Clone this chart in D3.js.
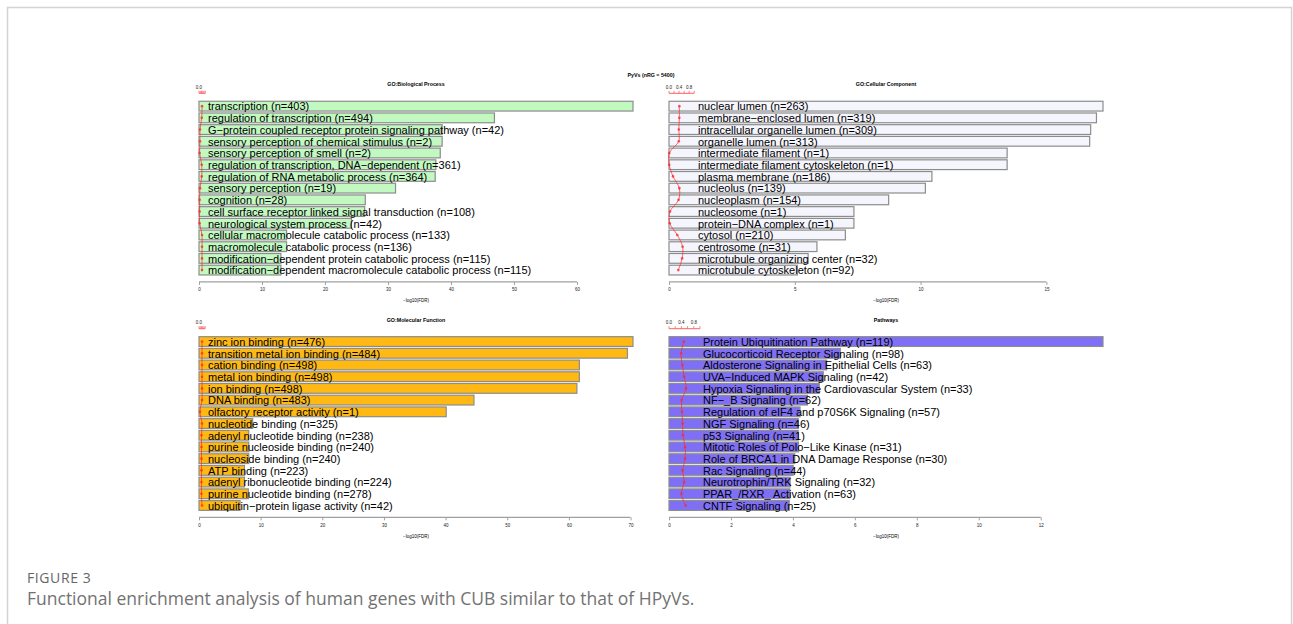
<!DOCTYPE html>
<html>
<head>
<meta charset="utf-8">
<script src="https://cdn.jsdelivr.net/npm/d3@7"></script>
<style>
  body { margin: 0; background: #fff; }
  svg { display: block; }
  .lbl { font-family: "Liberation Sans", Arial, sans-serif; }
  .cap { font-family: "Open Sans", sans-serif; }
</style>
</head>
<body>
<svg id="fig" width="1293" height="624"></svg>
<script>
// GO: Biological Process
const bpTerms = ["transcription (n=403)", "regulation of transcription (n=494)",
  "G\u2212protein coupled receptor protein signaling pathway (n=42)",
  "sensory perception of chemical stimulus (n=2)", "sensory perception of smell (n=2)",
  "regulation of transcription, DNA\u2212dependent (n=361)", "regulation of RNA metabolic process (n=364)",
  "sensory perception (n=19)", "cognition (n=28)", "cell surface receptor linked signal transduction (n=108)",
  "neurological system process (n=42)", "cellular macromolecule catabolic process (n=133)",
  "macromolecule catabolic process (n=136)", "modification\u2212dependent protein catabolic process (n=115)",
  "modification\u2212dependent macromolecule catabolic process (n=115)"];
const bpFdr = [68.9, 46.9, 38.6, 38.6, 38.3, 37.6, 37.5, 31.2, 26.4, 26.3, 24.2, 13.9, 13.9, 13.0, 13.0];
const bpRatio = [0.48, 0.43, 0.16, 0.16, 0.1, 0.43, 0.43, 0.16, 0.1, 0.1, 0.1, 0.48, 0.48, 0.48, 0.48];
const bpTicks = [0, 10, 20, 30, 40, 50, 60];

// GO: Cellular Component
const ccTerms = ["nuclear lumen (n=263)", "membrane\u2212enclosed lumen (n=319)", "intracellular organelle lumen (n=309)",
  "organelle lumen (n=313)", "intermediate filament (n=1)", "intermediate filament cytoskeleton (n=1)",
  "plasma membrane (n=186)", "nucleolus (n=139)", "nucleoplasm (n=154)", "nucleosome (n=1)",
  "protein\u2212DNA complex (n=1)", "cytosol (n=210)", "centrosome (n=31)",
  "microtubule organizing center (n=32)", "microtubule cytoskeleton (n=92)"];
const ccFdr = [17.25, 16.99, 16.76, 16.72, 13.44, 13.44, 10.45, 10.19, 8.73, 7.35, 7.35, 7.01, 5.88, 5.53, 5.10];
const ccRatio = [0.41, 0.41, 0.39, 0.39, 0.01, 0.01, 0.16, 0.41, 0.38, 0.04, 0.03, 0.33, 0.54, 0.52, 0.37];
const ccTicks = [0, 5, 10, 15];

// GO: Molecular Function
const mfTerms = ["zinc ion binding (n=476)", "transition metal ion binding (n=484)", "cation binding (n=498)",
  "metal ion binding (n=498)", "ion binding (n=498)", "DNA binding (n=483)", "olfactory receptor activity (n=1)",
  "nucleotide binding (n=325)", "adenyl nucleotide binding (n=238)", "purine nucleoside binding (n=240)",
  "nucleoside binding (n=240)", "ATP binding (n=223)", "adenyl ribonucleotide binding (n=224)",
  "purine nucleotide binding (n=278)", "ubiquitin\u2212protein ligase activity (n=42)"];
const mfFdr = [70.4, 69.5, 61.7, 61.7, 61.3, 44.6, 40.1, 8.7, 8.07, 8.07, 8.07, 7.37, 7.37, 8.0, 6.66];
const mfRatio = [0.49, 0.49, 0.49, 0.49, 0.49, 0.49, 0.16, 0.49, 0.4, 0.4, 0.4, 0.4, 0.4, 0.4, 0.49];
const mfTicks = [0, 10, 20, 30, 40, 50, 60, 70];

// Pathways
const pwTerms = ["Protein Ubiquitination Pathway (n=119)", "Glucocorticoid Receptor Signaling (n=98)",
  "Aldosterone Signaling in Epithelial Cells (n=63)", "UVA\u2212Induced MAPK Signaling (n=42)",
  "Hypoxia Signaling in the Cardiovascular System (n=33)", "NF\u2212_B Signaling (n=62)",
  "Regulation of eIF4 and p70S6K Signaling (n=57)", "NGF Signaling (n=46)", "p53 Signaling (n=41)",
  "Mitotic Roles of Polo\u2212Like Kinase (n=31)", "Role of BRCA1 in DNA Damage Response (n=30)",
  "Rac Signaling (n=44)", "Neurotrophin/TRK Signaling (n=32)", "PPAR_/RXR_ Activation (n=63)",
  "CNTF Signaling (n=25)"];
const pwFdr = [14.01, 5.53, 5.09, 4.98, 4.85, 4.47, 4.23, 4.17, 4.17, 4.18, 4.06, 4.01, 3.91, 3.90, 3.88];
const pwRatio = [0.48, 0.39, 0.43, 0.49, 0.55, 0.41, 0.42, 0.44, 0.45, 0.52, 0.52, 0.44, 0.49, 0.40, 0.54];
const pwTicks = [0, 2, 4, 6, 8, 10, 12];

const ratioTicks = [0, 0.2, 0.4, 0.6, 0.8, 1.0];

const svg = d3.select("#fig");
svg.append("rect").attr("width", 1293).attr("height", 624).attr("fill", "#fff");

// page frame
svg.append("rect")
  .attr("x", 7.5).attr("y", 7.5).attr("width", 1284).attr("height", 660)
  .attr("fill", "none").attr("stroke", "#d4d4d4").attr("stroke-width", 1.5);

const PLOT_W = 434;

function drawPanel(opt) {
  const g = svg.append("g").attr("class", "lbl");
  const x = d3.scaleLinear().domain([0, d3.max(opt.fdr)]).range([opt.x0, opt.x0 + PLOT_W]);
  const y = d3.scaleBand().domain(d3.range(opt.terms.length))
    .range([opt.y0, opt.y0 + opt.terms.length * 11.71])
    .paddingInner(0.1667).paddingOuter(0.0833);
  const yEnd = opt.y0 + opt.terms.length * 11.71;

  g.append("text")
    .attr("x", opt.x0 + PLOT_W / 2).attr("y", opt.y0 - 16)
    .attr("text-anchor", "middle").attr("dominant-baseline", "central")
    .attr("font-size", 5.3).attr("font-weight", "bold")
    .text(opt.title);

  g.selectAll("rect.bar").data(opt.fdr).join("rect")
    .attr("class", "bar")
    .attr("x", x(0)).attr("y", (d, i) => y(i))
    .attr("width", d => x(d) - x(0)).attr("height", y.bandwidth())
    .attr("fill", opt.fill).attr("stroke", "#8c8c8c").attr("stroke-width", 1.2);

  // bottom axis
  const ax = g.append("g").attr("transform", `translate(0,${yEnd + 6})`)
    .call(d3.axisBottom(x).tickValues(opt.ticks).tickSize(3).tickSizeOuter(0).tickPadding(3));
  ax.select(".domain").attr("stroke", "#a0a0a0").attr("stroke-width", 1.3)
    .attr("d", `M${x(0)},0H${x(d3.max(opt.ticks))}`);
  ax.selectAll(".tick line").attr("stroke", "#a0a0a0");
  ax.selectAll(".tick text").attr("font-size", 4.5).attr("font-family", "Liberation Sans, Arial, sans-serif").attr("fill", "#222");

  g.append("text")
    .attr("x", opt.x0 + PLOT_W / 2).attr("y", yEnd + 25)
    .attr("text-anchor", "middle").attr("dominant-baseline", "central")
    .attr("font-size", 4.5).text("\u2212log10(FDR)");

  // top ratio axis (same units as bars)
  const xr = d3.scaleLinear().domain([0, 1]).range([x(0), x(1)]);
  const ra = g.append("g").attr("transform", `translate(0,${opt.y0 - 7})`);
  ra.append("path").attr("d", `M${xr(0)},0H${xr(1)}`).attr("stroke", "#ff6060").attr("stroke-width", 1);
  ra.selectAll("line").data(ratioTicks).join("line")
    .attr("x1", d => xr(d)).attr("x2", d => xr(d)).attr("y1", 0).attr("y2", -2.5)
    .attr("stroke", "#ff6060").attr("stroke-width", 0.8);
  let last = -1e9;
  const shown = ratioTicks.filter(d => {
    if (xr(d) - last >= 10) { last = xr(d); return true; }
    return false;
  });
  ra.selectAll("text").data(shown).join("text")
    .attr("x", d => xr(d)).attr("y", -4.5)
    .attr("text-anchor", "middle").attr("font-size", 4.5).attr("fill", "#222")
    .text(d => d.toFixed(1));

  // ratio line
  const pts = opt.ratio.map((r, i) => [xr(r), y(i) + y.bandwidth() / 2]);
  g.append("path").datum(pts)
    .attr("d", d3.line().curve(d3.curveCatmullRom))
    .attr("fill", "none").attr("stroke", "rgba(255,40,40,0.7)").attr("stroke-width", 1);
  g.selectAll("circle").data(pts).join("circle")
    .attr("cx", d => d[0]).attr("cy", d => d[1]).attr("r", 1.3)
    .attr("fill", "rgba(255,40,40,0.8)");

  g.selectAll("text.term").data(opt.terms).join("text")
    .attr("class", "term")
    .attr("x", opt.x0 + opt.labelDx).attr("y", (d, i) => y(i) + y.bandwidth() / 2 + 0.3)
    .attr("dominant-baseline", "central").attr("font-size", 11).attr("fill", "#000")
    .text(d => d);
}

drawPanel({ title: "GO:Biological Process", terms: bpTerms, fdr: bpFdr, ratio: bpRatio, ticks: bpTicks,
  x0: 199, y0: 100.3, fill: "#c1f9c1", labelDx: 9 });
drawPanel({ title: "GO:Cellular Component", terms: ccTerms, fdr: ccFdr, ratio: ccRatio, ticks: ccTicks,
  x0: 669, y0: 100.3, fill: "#f5f5fd", labelDx: 29 });
drawPanel({ title: "GO:Molecular Function", terms: mfTerms, fdr: mfFdr, ratio: mfRatio, ticks: mfTicks,
  x0: 199, y0: 335.7, fill: "#ffb912", labelDx: 9 });
drawPanel({ title: "Pathways", terms: pwTerms, fdr: pwFdr, ratio: pwRatio, ticks: pwTicks,
  x0: 669, y0: 335.7, fill: "#7f6ff7", labelDx: 34 });

svg.append("text").attr("class", "lbl")
  .attr("x", 651).attr("y", 75).attr("text-anchor", "middle").attr("dominant-baseline", "central")
  .attr("font-size", 5.3).attr("font-weight", "bold").text("PyVs (nRG = 5400)");

// caption
svg.append("text").attr("class", "cap")
  .attr("x", 27).attr("y", 577).attr("dominant-baseline", "central")
  .attr("font-size", 14).attr("letter-spacing", 0.6).attr("fill", "#666").text("FIGURE 3");
svg.append("text").attr("class", "cap")
  .attr("x", 27).attr("y", 598).attr("dominant-baseline", "central")
  .attr("font-size", 17.5).attr("fill", "#727272")
  .text("Functional enrichment analysis of human genes with CUB similar to that of HPyVs.");
</script>
</body>
</html>
